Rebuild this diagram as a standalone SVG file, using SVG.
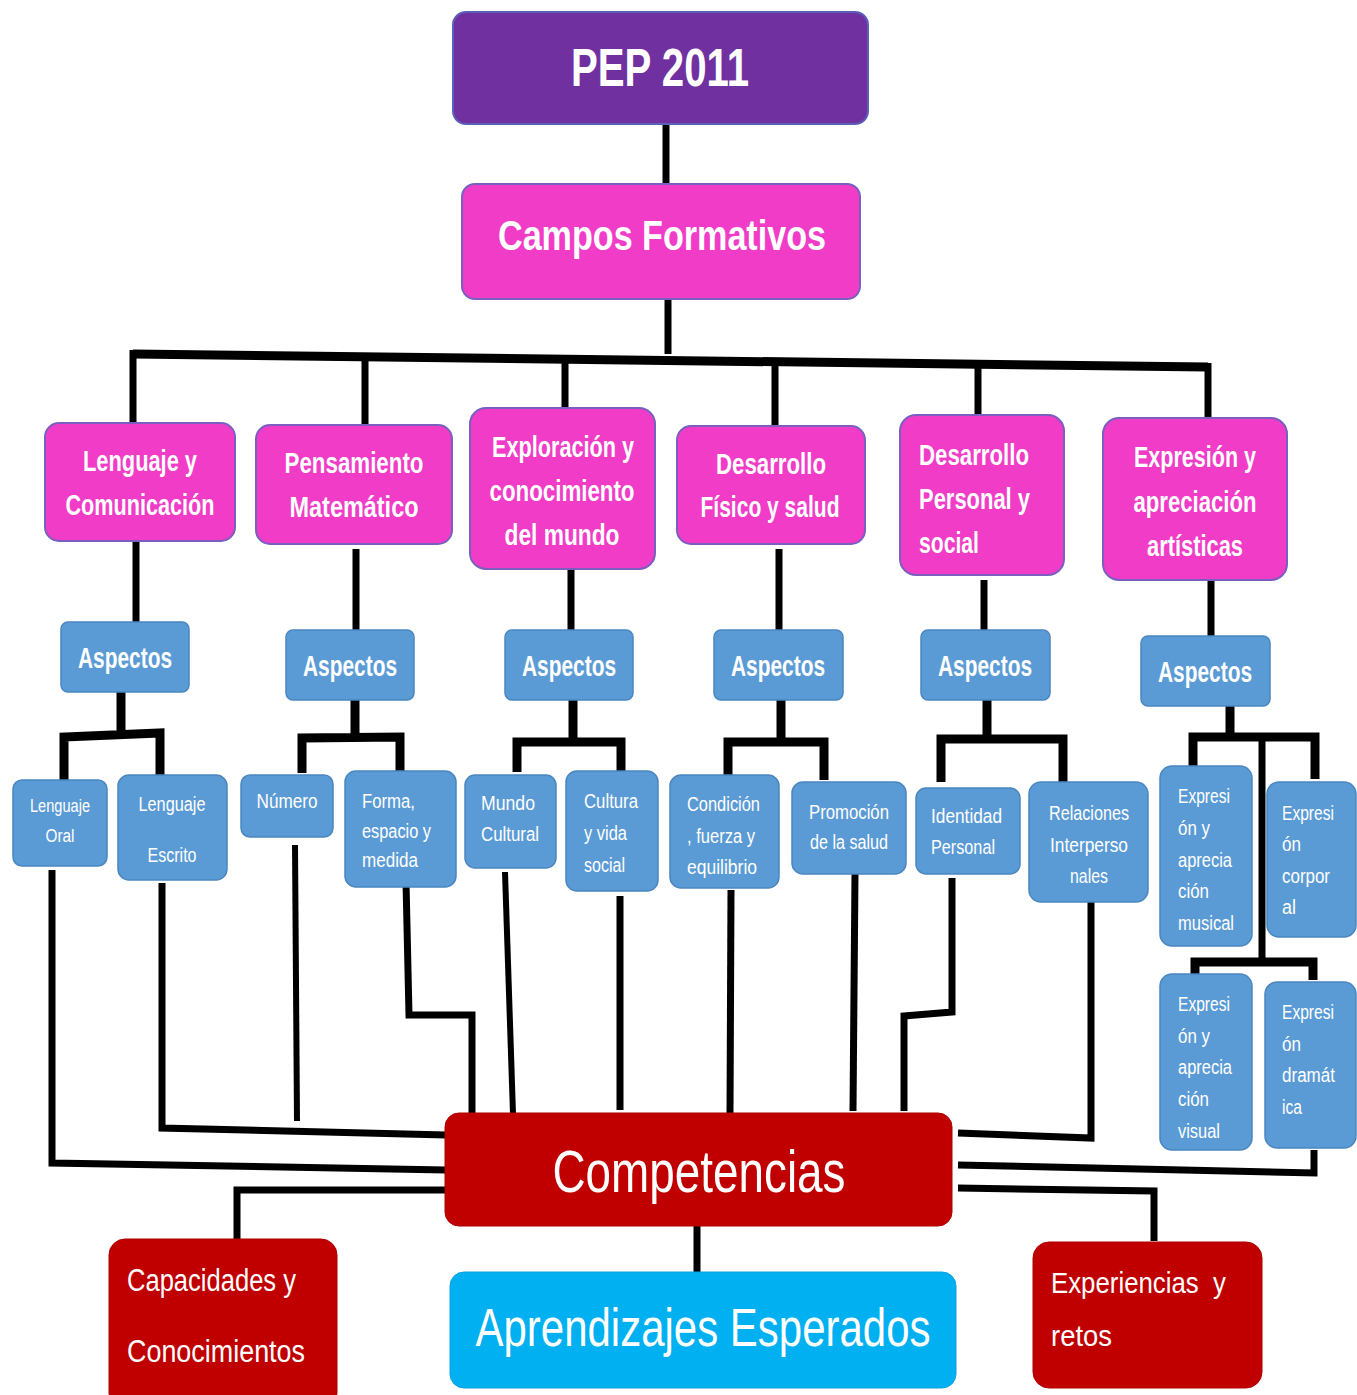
<svg xmlns="http://www.w3.org/2000/svg" width="1357" height="1395" viewBox="0 0 1357 1395">
<defs>
<style>
text{font-family:"Liberation Sans",Arial,sans-serif;fill:#fff}
.top{fill:#7030A0;stroke:#5b5fb8;stroke-width:2}
.mag{fill:#F03CC6;stroke:#7a5fc0;stroke-width:2}
.blue{fill:#5B9BD5;stroke:#4a86c0;stroke-width:1.5}
.red{fill:#C00000;stroke:#b00000;stroke-width:1}
.cyan{fill:#00B0F0;stroke:#10a0e0;stroke-width:1}
.b{font-weight:bold}
.c{text-anchor:middle}
.h2{font-size:29px}
.asp{font-size:29px}
.s{font-size:20px}
.ln{fill:none;stroke:#000;stroke-width:7;stroke-linejoin:miter;stroke-linecap:butt}
.th{stroke-width:9}
.tn{stroke-width:6}
</style>
</defs>
<rect width="1357" height="1395" fill="#fff"/>
<g id="connectors">
<path class="ln" d="M666 124V185"/>
<path class="ln" d="M668 299V354"/>
<path class="ln th" d="M133 354L1208 367"/>
<path class="ln" d="M133 350V423M365 357V424M565 360V409M775 362V427M978 365V416M1208 363V419"/>
<path class="ln" d="M136 541V622M356 549V630M571 569V630M779 549V630M984 580V630M1211 580V636"/>
<path class="ln th" d="M121 692V734M64 781V737L160 733V776"/>
<path class="ln th" d="M355 700V737M302 773V738L400 737V775"/>
<path class="ln th" d="M573 700V741M517 772V742L621 742V773"/>
<path class="ln th" d="M781 700V741M728 776V742L824 742V780"/>
<path class="ln th" d="M987 700V737M941 782V739L1063 739V782"/>
<path class="ln th" d="M1230 706V735M1193 766V737H1315V779"/>
<path class="ln" d="M1262 737V962"/>
<path class="ln th" d="M1195 975V962H1313V980"/>
<path class="ln" d="M52 870V1163L446 1170"/>
<path class="ln" d="M162 883V1128L446 1135"/>
<path class="ln tn" d="M295 845L297 1121"/>
<path class="ln" d="M406 882L409 1015H472V1114"/>
<path class="ln tn" d="M505 872L513 1114"/>
<path class="ln" d="M620 896V1110"/>
<path class="ln" d="M731 890L730 1114"/>
<path class="ln" d="M855 873L853 1111"/>
<path class="ln" d="M952 878V1012L904 1016V1111"/>
<path class="ln" d="M1091 902V1138L958 1133"/>
<path class="ln" d="M1314 1150V1173L958 1165"/>
<path class="ln" d="M958 1188L1154 1191V1241"/>
<path class="ln" d="M446 1190H237V1240"/>
<path class="ln" d="M697 1226V1273"/>
</g>
<g id="pep"><rect class="top" x="453" y="12" width="415" height="112" rx="13"/><text class="b c" x="660" y="86" font-size="54" textLength="178" lengthAdjust="spacingAndGlyphs">PEP 2011</text></g>
<g id="campos"><rect class="mag" x="462" y="184" width="398" height="115" rx="13"/><text class="b c" x="662" y="250" font-size="43" textLength="328" lengthAdjust="spacingAndGlyphs">Campos Formativos</text></g>

<g id="lenguaje"><rect class="mag" x="45" y="423" width="190" height="118" rx="14"/><text class="b c h2" x="140" y="471" textLength="114" lengthAdjust="spacingAndGlyphs">Lenguaje y</text><text class="b c h2" x="140" y="515" textLength="149" lengthAdjust="spacingAndGlyphs">Comunicación</text></g>
<g id="pensamiento"><rect class="mag" x="256" y="425" width="196" height="119" rx="14"/><text class="b c h2" x="354" y="473" textLength="139" lengthAdjust="spacingAndGlyphs">Pensamiento</text><text class="b c h2" x="354" y="517" textLength="129" lengthAdjust="spacingAndGlyphs">Matemático</text></g>
<g id="exploracion"><rect class="mag" x="470" y="408" width="185" height="161" rx="16"/><text class="b c h2" x="563" y="457" textLength="142" lengthAdjust="spacingAndGlyphs">Exploración y</text><text class="b c h2" x="562" y="501" textLength="145" lengthAdjust="spacingAndGlyphs">conocimiento</text><text class="b c h2" x="562" y="545" textLength="115" lengthAdjust="spacingAndGlyphs">del mundo</text></g>
<g id="fisico"><rect class="mag" x="677" y="426" width="188" height="118" rx="14"/><text class="b c h2" x="771" y="474" textLength="110" lengthAdjust="spacingAndGlyphs">Desarrollo</text><text class="b c h2" x="770" y="517" textLength="139" lengthAdjust="spacingAndGlyphs">Físico y salud</text></g>
<g id="personal"><rect class="mag" x="900" y="415" width="164" height="160" rx="16"/><text class="b h2" x="919" y="465" textLength="110" lengthAdjust="spacingAndGlyphs">Desarrollo</text><text class="b h2" x="919" y="509" textLength="111" lengthAdjust="spacingAndGlyphs">Personal y</text><text class="b h2" x="919" y="553" textLength="60" lengthAdjust="spacingAndGlyphs">social</text></g>
<g id="expresion"><rect class="mag" x="1103" y="418" width="184" height="162" rx="16"/><text class="b c h2" x="1195" y="467" textLength="122" lengthAdjust="spacingAndGlyphs">Expresión y</text><text class="b c h2" x="1195" y="512" textLength="123" lengthAdjust="spacingAndGlyphs">apreciación</text><text class="b c h2" x="1195" y="556" textLength="96" lengthAdjust="spacingAndGlyphs">artísticas</text></g>

<g id="asp1"><rect class="blue" x="61" y="622" width="128" height="70" rx="7"/><text class="b c asp" x="125" y="668" textLength="94" lengthAdjust="spacingAndGlyphs">Aspectos</text></g>
<g id="asp2"><rect class="blue" x="286" y="630" width="128" height="70" rx="7"/><text class="b c asp" x="350" y="676" textLength="94" lengthAdjust="spacingAndGlyphs">Aspectos</text></g>
<g id="asp3"><rect class="blue" x="505" y="630" width="128" height="70" rx="7"/><text class="b c asp" x="569" y="676" textLength="94" lengthAdjust="spacingAndGlyphs">Aspectos</text></g>
<g id="asp4"><rect class="blue" x="714" y="630" width="129" height="70" rx="7"/><text class="b c asp" x="778" y="676" textLength="94" lengthAdjust="spacingAndGlyphs">Aspectos</text></g>
<g id="asp5"><rect class="blue" x="921" y="630" width="129" height="70" rx="7"/><text class="b c asp" x="985" y="676" textLength="94" lengthAdjust="spacingAndGlyphs">Aspectos</text></g>
<g id="asp6"><rect class="blue" x="1141" y="636" width="129" height="70" rx="7"/><text class="b c asp" x="1205" y="682" textLength="94" lengthAdjust="spacingAndGlyphs">Aspectos</text></g>

<g id="oral"><rect class="blue" x="13" y="780" width="94" height="86" rx="9"/><text class="c" x="60" y="812" font-size="18" textLength="60" lengthAdjust="spacingAndGlyphs">Lenguaje</text><text class="c" x="60" y="842" font-size="18" textLength="29" lengthAdjust="spacingAndGlyphs">Oral</text></g>
<g id="escrito"><rect class="blue" x="118" y="775" width="109" height="105" rx="11"/><text class="c s" x="172" y="811" textLength="67" lengthAdjust="spacingAndGlyphs">Lenguaje</text><text class="c s" x="172" y="862" textLength="49" lengthAdjust="spacingAndGlyphs">Escrito</text></g>
<g id="numero"><rect class="blue" x="241" y="775" width="92" height="62" rx="9"/><text class="c s" x="287" y="808" textLength="61" lengthAdjust="spacingAndGlyphs">Número</text></g>
<g id="forma"><rect class="blue" x="345" y="771" width="111" height="116" rx="11"/><text class="s" x="362" y="808" textLength="53" lengthAdjust="spacingAndGlyphs">Forma,</text><text class="s" x="362" y="838" textLength="69" lengthAdjust="spacingAndGlyphs">espacio y</text><text class="s" x="362" y="867" textLength="56" lengthAdjust="spacingAndGlyphs">medida</text></g>
<g id="mundo"><rect class="blue" x="465" y="775" width="91" height="93" rx="10"/><text class="s" x="481" y="810" textLength="54" lengthAdjust="spacingAndGlyphs">Mundo</text><text class="s" x="481" y="841" textLength="58" lengthAdjust="spacingAndGlyphs">Cultural</text></g>
<g id="cultura"><rect class="blue" x="566" y="771" width="92" height="120" rx="11"/><text class="s" x="584" y="808" textLength="54" lengthAdjust="spacingAndGlyphs">Cultura</text><text class="s" x="584" y="840" textLength="43" lengthAdjust="spacingAndGlyphs">y vida</text><text class="s" x="584" y="872" textLength="41" lengthAdjust="spacingAndGlyphs">social</text></g>
<g id="condicion"><rect class="blue" x="670" y="775" width="109" height="113" rx="11"/><text class="s" x="687" y="811" textLength="73" lengthAdjust="spacingAndGlyphs">Condición</text><text class="s" x="687" y="843" textLength="68" lengthAdjust="spacingAndGlyphs">, fuerza y</text><text class="s" x="687" y="874" textLength="70" lengthAdjust="spacingAndGlyphs">equilibrio</text></g>
<g id="promocion"><rect class="blue" x="792" y="782" width="114" height="92" rx="11"/><text class="c s" x="849" y="819" textLength="80" lengthAdjust="spacingAndGlyphs">Promoción</text><text class="c s" x="849" y="849" textLength="78" lengthAdjust="spacingAndGlyphs">de la salud</text></g>
<g id="identidad"><rect class="blue" x="916" y="788" width="104" height="86" rx="10"/><text class="s" x="931" y="823" textLength="71" lengthAdjust="spacingAndGlyphs">Identidad</text><text class="s" x="931" y="854" textLength="64" lengthAdjust="spacingAndGlyphs">Personal</text></g>
<g id="relaciones"><rect class="blue" x="1029" y="782" width="119" height="120" rx="12"/><text class="c s" x="1089" y="820" textLength="80" lengthAdjust="spacingAndGlyphs">Relaciones</text><text class="c s" x="1089" y="852" textLength="78" lengthAdjust="spacingAndGlyphs">Interperso</text><text class="c s" x="1089" y="883" textLength="38" lengthAdjust="spacingAndGlyphs">nales</text></g>
<g id="musical"><rect class="blue" x="1160" y="766" width="92" height="180" rx="12"/><text class="s" x="1178" y="803" textLength="52" lengthAdjust="spacingAndGlyphs">Expresi</text><text class="s" x="1178" y="835" textLength="32" lengthAdjust="spacingAndGlyphs">ón y</text><text class="s" x="1178" y="867" textLength="54" lengthAdjust="spacingAndGlyphs">aprecia</text><text class="s" x="1178" y="898" textLength="31" lengthAdjust="spacingAndGlyphs">ción</text><text class="s" x="1178" y="930" textLength="56" lengthAdjust="spacingAndGlyphs">musical</text></g>
<g id="corporal"><rect class="blue" x="1267" y="782" width="89" height="155" rx="12"/><text class="s" x="1282" y="820" textLength="52" lengthAdjust="spacingAndGlyphs">Expresi</text><text class="s" x="1282" y="851" textLength="19" lengthAdjust="spacingAndGlyphs">ón</text><text class="s" x="1282" y="883" textLength="48" lengthAdjust="spacingAndGlyphs">corpor</text><text class="s" x="1282" y="914" textLength="14" lengthAdjust="spacingAndGlyphs">al</text></g>
<g id="visual"><rect class="blue" x="1160" y="974" width="92" height="176" rx="12"/><text class="s" x="1178" y="1011" textLength="52" lengthAdjust="spacingAndGlyphs">Expresi</text><text class="s" x="1178" y="1043" textLength="32" lengthAdjust="spacingAndGlyphs">ón y</text><text class="s" x="1178" y="1074" textLength="54" lengthAdjust="spacingAndGlyphs">aprecia</text><text class="s" x="1178" y="1106" textLength="31" lengthAdjust="spacingAndGlyphs">ción</text><text class="s" x="1178" y="1138" textLength="42" lengthAdjust="spacingAndGlyphs">visual</text></g>
<g id="dramatica"><rect class="blue" x="1265" y="982" width="91" height="166" rx="12"/><text class="s" x="1282" y="1019" textLength="52" lengthAdjust="spacingAndGlyphs">Expresi</text><text class="s" x="1282" y="1051" textLength="19" lengthAdjust="spacingAndGlyphs">ón</text><text class="s" x="1282" y="1082" textLength="53" lengthAdjust="spacingAndGlyphs">dramát</text><text class="s" x="1282" y="1114" textLength="20" lengthAdjust="spacingAndGlyphs">ica</text></g>

<g id="competencias"><rect class="red" x="445" y="1113" width="507" height="113" rx="14"/><text class="c" x="699" y="1192" font-size="60" textLength="293" lengthAdjust="spacingAndGlyphs">Competencias</text></g>
<g id="capacidades"><rect class="red" x="109" y="1239" width="228" height="170" rx="16"/><text x="127" y="1291" font-size="31" textLength="169" lengthAdjust="spacingAndGlyphs">Capacidades y</text><text x="127" y="1362" font-size="31" textLength="178" lengthAdjust="spacingAndGlyphs">Conocimientos</text></g>
<g id="aprendizajes"><rect class="cyan" x="450" y="1272" width="506" height="116" rx="14"/><text class="c" x="703" y="1346" font-size="54" textLength="455" lengthAdjust="spacingAndGlyphs">Aprendizajes Esperados</text></g>
<g id="experiencias"><rect class="red" x="1033" y="1242" width="229" height="146" rx="16"/><text x="1051" y="1293" font-size="29" textLength="175" lengthAdjust="spacingAndGlyphs">Experiencias&#160; y</text><text x="1051" y="1346" font-size="29" textLength="61" lengthAdjust="spacingAndGlyphs">retos</text></g>
</svg>
